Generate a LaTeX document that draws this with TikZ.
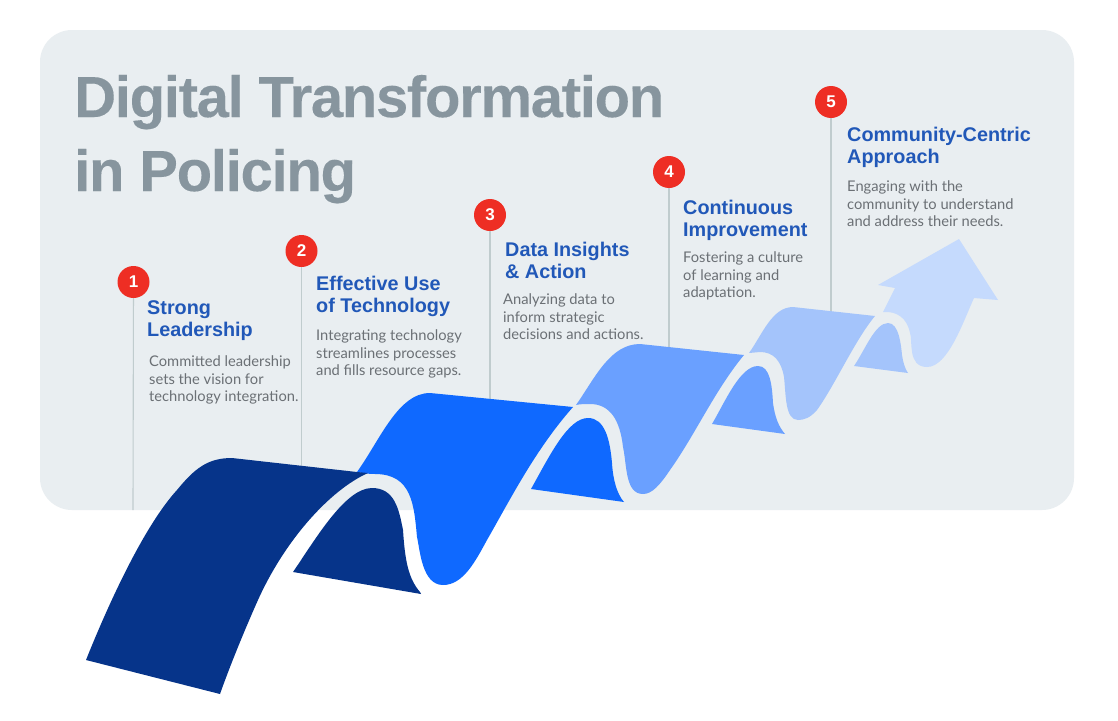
\documentclass[tikz,border=0pt]{standalone}
\usepackage{fontspec}
\setmainfont{Lato}
\newfontfamily\headfont{Liberation Sans}[BoldFont={Liberation Sans Bold}]
\newfontfamily\titlefont{Liberation Sans Bold}[LetterSpace=-2.2,FakeBold=0.2]
\definecolor{panel}{HTML}{E9EEF1}
\definecolor{titlegray}{HTML}{87959E}
\definecolor{headblue}{HTML}{2158B8}
\definecolor{bodygray}{HTML}{6B7075}
\definecolor{badgered}{HTML}{EE2E24}
\definecolor{stemgray}{HTML}{C0CCCE}
\definecolor{ribA}{HTML}{06348A}
\definecolor{ribB}{HTML}{0F69FF}
\definecolor{ribC}{HTML}{6AA0FF}
\definecolor{ribD}{HTML}{A4C4FB}
\definecolor{ribE}{HTML}{C5DAFD}
\tikzset{
  titletext/.style={anchor=base west,inner sep=0pt,font=\titlefont\fontsize{58}{58}\selectfont,text=titlegray},
  headtext/.style={anchor=north west,inner sep=0pt,align=left,font=\headfont\bfseries\fontsize{19.8}{22}\selectfont,text=headblue},
  bodytext/.style={anchor=north west,inner sep=0pt,align=left,font=\fontsize{14.7}{17.7}\selectfont,text=bodygray},
  badge/.style={circle,fill=badgered,minimum size=32pt,inner sep=0pt,text=white,font=\headfont\bfseries\fontsize{17}{17}\selectfont},
  stem/.style={draw=stemgray,line width=1.1pt},
}
\begin{document}
\begin{tikzpicture}[x=1pt,y=-1pt]
\useasboundingbox (0,0) rectangle (1118,720);
\fill[white] (0,0) rectangle (1118,720);
\fill[panel,rounded corners=32pt] (40,30) rectangle (1074,510);
\node[titletext] (t1) at (74,117) {Digital Transformation};
\node[titletext] (t2) at (74,191) {in Policing};
\coordinate (e1) at (133,510);
\coordinate (e2) at (301.5,470);
\coordinate (e3) at (490,400);
\coordinate (e4) at (669,350);
\coordinate (e5) at (831,315);
\node[badge] (b1) at (133.5,282) {1};
\node[badge] (b2) at (301.5,251) {2};
\node[badge] (b3) at (490,215) {3};
\node[badge] (b4) at (669,172) {4};
\node[badge] (b5) at (831,102) {5};
\draw[stem] (b1) -- (e1);
\draw[stem] (b2) -- (e2);
\draw[stem] (b3) -- (e3);
\draw[stem] (b4) -- (e4);
\draw[stem] (b5) -- (e5);
\node[headtext] (h1) at (147,300.5) {Strong\\Leadership};
\node[bodytext] (d1) at (149,355.5) {Committed leadership\\sets the vision for\\technology integration.};
\node[headtext] (h2) at (316,275.5) {Effective Use\\of Technology};
\node[bodytext] (d2) at (316,329.5) {Integrating technology\\streamlines processes\\and fills resource gaps.};
\node[headtext] (h3) at (505,241.5) {Data Insights\\\& Action};
\node[bodytext] (d3) at (503,293.5) {Analyzing data to\\inform strategic\\decisions and actions.};
\node[headtext] (h4) at (683,199.5) {Continuous\\Improvement};
\node[bodytext] (d4) at (683,251.5) {Fostering a culture\\of learning and\\adaptation.};
\node[headtext] (h5) at (847,126.5) {Community-Centric\\Approach};
\node[bodytext] (d5) at (847,180.5) {Engaging with the\\community to understand\\and address their needs.};
% ribbons
\fill[ribE] (883,312) -- (895,288) -- (878,285) -- (959,239) -- (998,300) -- (974,298)
  .. controls (963,322) and (948,367) .. (927,367)
  .. controls (907,367) and (913,340) .. (910,333)
  .. controls (907,318) and (897,311) .. cycle;
\fill[ribB] (357,472) .. controls (380,440) and (398,393) .. (430,393)
  -- (573,407)
  .. controls (535,450) and (510,500) .. (487,540)
  .. controls (475,562) and (463,585) .. (443,585)
  .. controls (422,585) and (420,550) .. (417,537)
  .. controls (414,505) and (412,474) .. (375,474)
  .. controls (368,474) and (362,473) .. cycle;
\fill[ribA] (86,660) .. controls (110,600) and (145,525) .. (177,490)
  .. controls (195,468) and (208,458) .. (232,458)
  -- (357,472) -- (368,473)
  .. controls (330,490) and (285,540) .. (258,600)
  .. controls (249,620) and (232,660) .. (220,694) -- cycle;
\fill[ribA] (293,572) .. controls (315,540) and (345,488) .. (372,488)
  .. controls (395,488) and (399,510) .. (403,530)
  .. controls (405,560) and (408,578) .. (420,592) -- (421,594) -- cycle;
\fill[ribB] (531,489) .. controls (550,455) and (568,418) .. (588,418)
  .. controls (605,418) and (610,440) .. (612,463)
  .. controls (613,480) and (617,494) .. (624,502) -- cycle;
\fill[ribC] (576,405) .. controls (595,378) and (610,344) .. (640,344)
  -- (744,355)
  .. controls (715,390) and (695,435) .. (670,470)
  .. controls (660,485) and (652,494) .. (643,494)
  .. controls (625,494) and (627,465) .. (623,447)
  .. controls (620,420) and (610,404) .. (590,404)
  .. controls (585,404) and (580,404) .. cycle;
\fill[ribC] (712,424) .. controls (725,402) and (740,366) .. (758,366)
  .. controls (770,366) and (772,385) .. (773,403)
  .. controls (775,418) and (779,427) .. (785,434) -- cycle;
\fill[ribD] (749,353) .. controls (762,335) and (772,307) .. (793,307)
  -- (875,316)
  .. controls (855,340) and (835,385) .. (817,410)
  .. controls (810,418) and (804,420) .. (798,420)
  .. controls (785,420) and (786,395) .. (784,377)
  .. controls (781,360) and (773,352) .. (760,352) -- cycle;
\fill[ribD] (854,366) .. controls (865,350) and (875,323) .. (888,323)
  .. controls (899,323) and (901,345) .. (902,355)
  .. controls (903,362) and (905,369) .. (908,373) -- cycle;
\end{tikzpicture}
\end{document}
